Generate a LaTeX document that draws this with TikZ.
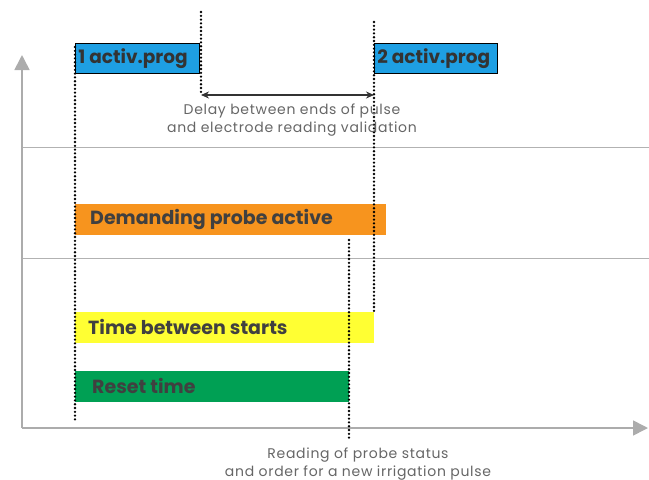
\documentclass[tikz,border=0pt]{standalone}
\usepackage{fontspec}
\setsansfont{Poppins}
\usepackage{xcolor}
\usetikzlibrary{positioning, arrows.meta}

\definecolor{progblue}{HTML}{1E9FE3}
\definecolor{barorange}{HTML}{F7941E}
\definecolor{baryellow}{HTML}{FFFF33}
\definecolor{bargreen}{HTML}{00A054}

\begin{document}
\begin{tikzpicture}[
  x=1pt, y=-1pt,
  font=\sffamily,
  axis/.style={draw=gray!65, line width=1.6pt, -{Triangle[length=15pt, width=15pt]}},
  level/.style={draw=gray!60, line width=1pt},
  prog/.style={draw=black, fill=progblue, line width=0.8pt, minimum height=30pt, inner xsep=3pt, inner ysep=0pt, text width=118pt, align=flush left, anchor=north west, font=\sffamily\bfseries\fontsize{18.5}{20}\selectfont, text=black!80},
  bar/.style={minimum height=31pt, inner xsep=15pt, inner ysep=0pt, anchor=west, align=flush left, font=\sffamily\bfseries\fontsize{19}{20}\selectfont, text=black!75},
  tick/.style={dash pattern=on 0pt off 3.8pt, line width=2.6pt, line cap=round},
  note/.style={align=center, text=black!60, font=\sffamily\fontsize{14}{18}\selectfont\addfontfeature{LetterSpace=5}}
]
\useasboundingbox (0,0) rectangle (649,480);

% axes and level lines
\coordinate (origin) at (22,428);
\coordinate (ytop) at (22,55);
\coordinate (xend) at (648,428);
\draw[level] (22,147) -- (649,147);
\draw[level] (22,258) -- (649,258);
\draw[axis] (origin) -- (ytop);
\draw[axis] (origin) -- (xend);

% programme pulses
\node[prog] (prog1) at (75,43) {1 activ.prog};
\node[prog, text width=117pt] (prog2) at (374,43) {2 activ.prog};

% bars
\node[bar, fill=barorange, text width=281pt] (demand) at (75,219) {Demanding probe active};
\node[bar, fill=baryellow, inner xsep=13pt, text width=273pt] (starts) at (75,327) {Time between starts};
\node[bar, fill=bargreen, inner xsep=17pt, text width=240pt] (reset) at (75,386) {Reset time};

% dotted markers
\coordinate (m1top) at (75,47);
\coordinate (m1bot) at (75,422);
\coordinate (m2top) at (201,12);
\coordinate (m2bot) at (201,95);
\coordinate (m3top) at (374,22);
\coordinate (m3bot) at (374,313);
\coordinate (m4top) at (349,240);
\coordinate (m4bot) at (349,440);
\draw[tick] (m1top) -- (m1bot);
\draw[tick] (m2top) -- (m2bot);
\draw[tick] (m3top) -- (m3bot);
\draw[tick] (m4top) -- (m4bot);

% delay
\draw[{Stealth[length=8pt, width=7pt]}-{Stealth[length=8pt, width=7pt]}, line width=1.1pt, black!80] (m2bot) -- (m2bot -| m3top);
\node[note] (delay) at (292,120) {Delay between ends of pulse\\and electrode reading validation};
\node[note] (reading) at (358,464) {Reading of probe status\\and order for a new irrigation pulse};
\end{tikzpicture}
\end{document}
